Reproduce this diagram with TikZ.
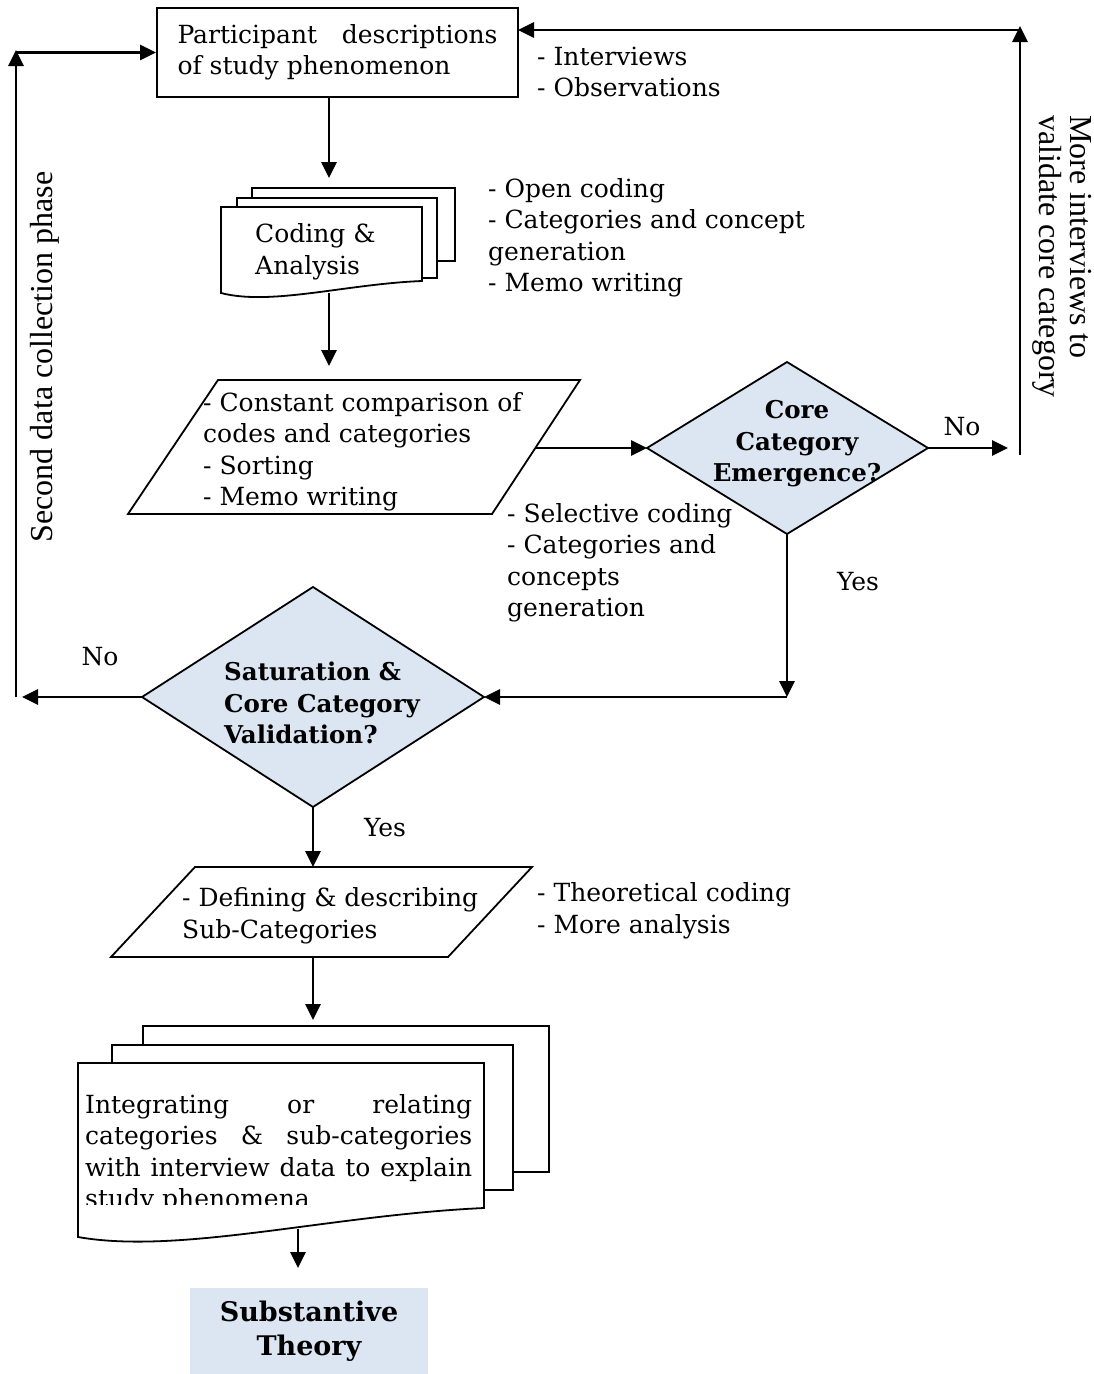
\documentclass[tikz,border=0pt]{standalone}
\usepackage{fontspec}
\setmainfont{DejaVu Serif}
\newfontfamily\timesf{Liberation Serif}
\usetikzlibrary{arrows.meta}
\definecolor{lblue}{HTML}{DCE6F2}
\begin{document}
\begin{tikzpicture}[x=1pt,y=-1pt,
  outl/.style={draw=black,line width=1.8pt,line join=miter},
  flow/.style={line width=2.8pt,-{Triangle[length=16pt,width=15pt]}},
  txt/.style={font=\fontsize{25}{31.5}\selectfont,inner sep=0pt,align=left},
  btxt/.style={font=\fontsize{24.5}{31.5}\selectfont\bfseries,inner sep=0pt},
  rtxt/.style={font=\fontsize{32}{30.5}\selectfont\timesf,inner sep=0pt,align=left},
]
\useasboundingbox (0,0) rectangle (1093,1374);

% ---------- Participant box
\node[outl,txt,minimum width=361pt,minimum height=89pt] (p) at (337.5,52.5)
  {\makebox[320pt][s]{Participant descriptions}\\of study phenomenon};
\coordinate (pR) at (518,30);
\node[txt,anchor=west] (obs) at (537,72) {- Interviews\\- Observations};

% ---------- Coding & Analysis (multi document)
\filldraw[outl,fill=white] (252,188) rectangle (455,261);
\filldraw[outl,fill=white] (237,198) rectangle (437,278);
\filldraw[outl,fill=white] (221,207) -- (422,207) -- (422,281)
   .. controls (346,284) and (271,306) .. (221,293) -- cycle;
\node[txt,anchor=west] (d1) at (255,252) {Coding \&\\Analysis};
\coordinate (d1t) at (329,178);
\coordinate (d1b) at (329,293);
\node[txt,anchor=west] (oc) at (488,238) {- Open coding\\- Categories and concept\\generation\\- Memo writing};

% ---------- Constant comparison parallelogram
\draw[outl] (218,380) -- (580,380) -- (492,514) -- (128,514) -- cycle;
\node[txt,anchor=west] (cc) at (203,452) {- Constant comparison of\\codes and categories\\- Sorting\\- Memo writing};
\coordinate (pa1t) at (329,366);
\coordinate (pa1r) at (536,448);

% ---------- Core category diamond
\filldraw[outl,fill=lblue] (647,448) coordinate (k1w) -- (787,362) coordinate (k1n)
   -- (928,448) coordinate (k1e) -- (787,534) coordinate (k1s) -- cycle;
\node[btxt,align=center] (k1) at (797,444) {Core\\Category\\Emergence?};
\node[txt] (no1) at (962,427) {No};
\coordinate (k1no) at (1008,448);
\coordinate (rb) at (1020,455);
\coordinate (rt) at (1020,26);
\node[rtxt,rotate=-90,anchor=west] (more) at (1062,115) {More interviews to\\validate core category};
\node[txt,anchor=west] (sel) at (507,563) {- Selective coding\\- Categories and\\concepts\\generation};
\node[txt] (yes1) at (858,582) {Yes};
\coordinate (k1d) at (787,697);

% ---------- Saturation diamond
\filldraw[outl,fill=lblue] (142,697) coordinate (k2w) -- (313,587) coordinate (k2n)
   -- (484,697) coordinate (k2e) -- (313,807) coordinate (k2s) -- cycle;
\node[btxt,align=left,anchor=west] (k2) at (224,703) {Saturation \&\\Core Category\\Validation?};
\node[txt] (no2) at (100,657) {No};
\coordinate (k2no) at (22,697);
\coordinate (lb) at (16,697);
\coordinate (lt) at (16,50);
\node[rtxt,rotate=90] (sec) at (45,357) {Second data collection phase};
\node[txt] (yes2) at (385,828) {Yes};

% ---------- Defining parallelogram
\draw[outl] (195,867) coordinate (pa2tl) -- (532,867) -- (448,957) -- (111,957) -- cycle;
\node[txt,anchor=west] (def) at (182,916) {- Defining \& describing\\Sub-Categories};
\coordinate (pa2t) at (313,867);
\coordinate (pa2b) at (313,957);
\node[txt,anchor=west] (theo) at (537,911) {- Theoretical coding\\- More analysis};

% ---------- Integrating (multi document)
\filldraw[outl,fill=white] (143,1026) rectangle (549,1172);
\filldraw[outl,fill=white] (112,1045) rectangle (513,1190);
\filldraw[outl,fill=white] (78,1063) -- (484,1063) -- (484,1208)
   .. controls (330,1215) and (180,1255) .. (78,1237) -- cycle;
\begin{scope}
  \clip (78,1063) rectangle (484,1204);
  \node[txt,anchor=north west] (integ) at (85,1094)
   {\makebox[387pt][s]{Integrating or relating}\\
    \makebox[387pt][s]{categories \& sub-categories}\\
    \makebox[387pt][s]{with interview data to explain}\\
    study phenomena};
\end{scope}
\coordinate (d2t) at (313,1020);
\coordinate (d2b) at (298,1229);
\coordinate (st) at (298,1268);

% ---------- Substantive theory
\node[fill=lblue,font=\fontsize{27}{34}\selectfont\bfseries,inner sep=0pt,align=center,
      minimum width=238pt,minimum height=86pt] (sub) at (309,1331)
  {Substantive\\Theory};

% ---------- connectors
\draw[flow] (p.south -| d1t) -- (d1t);
\draw[flow] (d1b) -- (pa1t);
\draw[flow] (pa1r) -- (k1w);
\draw[flow] (k1e) -- (k1no);
\draw[flow] (rb) -- (rt);
\draw[flow] (rt |- pR) -- (pR);
\draw[flow] (k1s) -- (k1d);
\draw[flow] (k1d) -- (k2e);
\draw[flow] (k2w) -- (k2no);
\draw[flow] (lb) -- (lt);
\draw[flow] (lt |- p.west) -- (p.west);
\draw[flow] (k2s) -- (pa2t);
\draw[flow] (pa2b) -- (d2t);
\draw[flow] (d2b) -- (st);
\end{tikzpicture}
\end{document}
